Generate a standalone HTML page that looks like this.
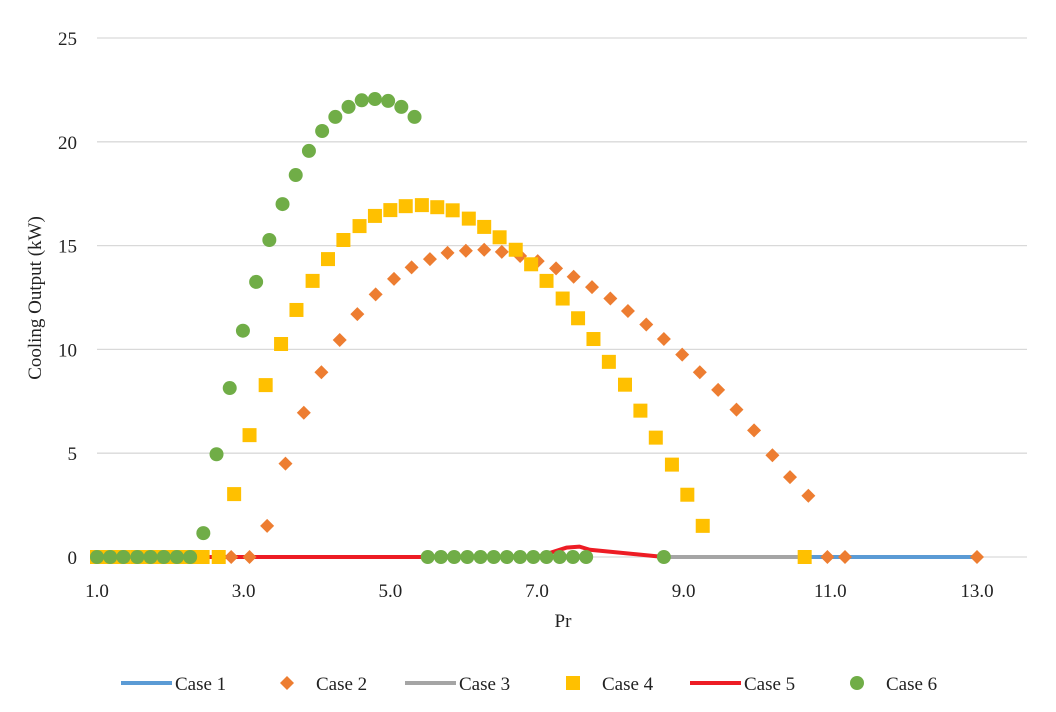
<!DOCTYPE html>
<html><head><meta charset="utf-8"><style>
body{margin:0;background:#fff;}
svg{display:block;font-family:"Liberation Serif",serif;}
</style></head><body>
<svg id="chart" width="1056" height="712" xmlns="http://www.w3.org/2000/svg">
<g id="grid"></g><g id="axes"></g><g id="series"></g><g id="legend"></g>
</svg>
<script>
const xTicks=[1,3,5,7,9,11,13];
const xTickLabels=["1.0","3.0","5.0","7.0","9.0","11.0","13.0"];
const yTicks=[0,5,10,15,20,25];
const case1X=[10.65,13.0];
const case1Y=[0,0];
const case3X=[8.73,10.65];
const case3Y=[0,0];
const case5X=[1.0,7.0,7.4,7.58,7.72,8.73];
const case5Y=[0,0,0.45,0.5,0.35,0];
const case2X=[2.83,3.08,3.32,3.57,3.82,4.06,4.31,4.55,4.8,5.05,5.29,5.54,5.78,6.03,6.28,6.52,6.77,7.01,7.26,7.5,7.75,8.0,8.24,8.49,8.73,8.98,9.22,9.47,9.72,9.96,10.21,10.45,10.7,10.96,11.2,13.0];
const case2Y=[0,0,1.5,4.5,6.95,8.9,10.45,11.7,12.65,13.4,13.95,14.35,14.65,14.75,14.8,14.7,14.5,14.25,13.9,13.5,13.0,12.45,11.85,11.2,10.5,9.75,8.9,8.05,7.1,6.1,4.9,3.85,2.95,0,0,0];
const case4X=[1.0,1.18,1.36,1.55,1.73,1.91,2.09,2.27,2.44,2.66,2.87,3.08,3.3,3.51,3.72,3.94,4.15,4.36,4.58,4.79,5.0,5.21,5.43,5.64,5.85,6.07,6.28,6.49,6.71,6.92,7.13,7.35,7.56,7.77,7.98,8.2,8.41,8.62,8.84,9.05,9.26,10.65];
const case4Y=[0,0,0,0,0,0,0,0,0,0,3.03,5.87,8.28,10.26,11.9,13.3,14.35,15.27,15.94,16.43,16.71,16.9,16.95,16.85,16.7,16.3,15.9,15.4,14.8,14.1,13.3,12.45,11.5,10.5,9.4,8.3,7.05,5.75,4.45,3.0,1.5,0];
const case6X=[1.0,1.18,1.36,1.55,1.73,1.91,2.09,2.27,2.45,2.63,2.81,2.99,3.17,3.35,3.53,3.71,3.89,4.07,4.25,4.43,4.61,4.79,4.97,5.15,5.33,5.51,5.69,5.87,6.05,6.23,6.41,6.59,6.77,6.95,7.13,7.31,7.49,7.67,8.73];
const case6Y=[0,0,0,0,0,0,0,0,1.15,4.95,8.14,10.9,13.25,15.27,17.0,18.4,19.56,20.52,21.2,21.68,22.0,22.06,21.97,21.68,21.2,0,0,0,0,0,0,0,0,0,0,0,0,0,0];

const NS="http://www.w3.org/2000/svg";
const X0=97,X1=1027,Y0=557,Y1=38;
const xs=v=>X0+(v-1)*(880/12);
const ys=v=>Y0-(v/25)*(Y0-Y1);
function mk(tag,attrs,parent,text){const e=document.createElementNS(NS,tag);for(const k in attrs)e.setAttribute(k,attrs[k]);if(text!==undefined)e.textContent=text;parent.appendChild(e);return e;}
const grid=document.getElementById('grid'),axes=document.getElementById('axes'),ser=document.getElementById('series'),leg=document.getElementById('legend');
yTicks.forEach(t=>{
  const l=mk('line',{x1:X0,x2:X1,y1:ys(t),y2:ys(t),stroke:'#d9d9d9','stroke-width':1.3},grid);
  
  
  const tx=mk('text',{x:77,y:ys(t)+7,'text-anchor':'end','font-size':19,fill:'#222'},axes,String(t));
  
  
});
xTicks.forEach((t,i)=>{
  const tx=mk('text',{x:xs(t),y:597,'text-anchor':'middle','font-size':19,fill:'#222'},axes,xTickLabels[i]);
  
  
});
const xt=mk('text',{x:563,y:627,'text-anchor':'middle','font-size':19,fill:'#222'},axes,'Pr');


const yt=mk('text',{x:0,y:0,transform:'translate(41,298) rotate(-90)','text-anchor':'middle','font-size':19,fill:'#222'},axes,'Cooling Output (kW)');



function line(xa,ya,color,name){
  const p=mk('polyline',{points:xa.map((x,i)=>xs(x)+','+ys(ya[i])).join(' '),fill:'none',stroke:color,'stroke-width':4,'stroke-linejoin':'round'},ser);
  
  
}
function marker(type,cx,cy,color,parent){
  let e;
  if(type==='d') e=mk('polygon',{points:`${cx},${cy-7} ${cx+7},${cy} ${cx},${cy+7} ${cx-7},${cy}`,fill:color},parent);
  else if(type==='s') e=mk('rect',{x:cx-7,y:cy-7,width:14,height:14,fill:color},parent);
  else e=mk('circle',{cx:cx,cy:cy,r:7,fill:color},parent);
  return e;
}
line(case3X,case3Y,'#a5a5a5','case3-line');
line(case1X,case1Y,'#5b9bd5','case1-line');
line(case5X,case5Y,'#ed1c24','case5-line');
case2X.forEach((x,i)=>{const m=marker('d',xs(x),ys(case2Y[i]),'#ed7d31',ser);
  
  });
case4X.forEach((x,i)=>{const m=marker('s',xs(x),ys(case4Y[i]),'#ffc000',ser);
  
  });
case6X.forEach((x,i)=>{const m=marker('c',xs(x),ys(case6Y[i]),'#70ad47',ser);
  
  });

const legendItems=[['line','#5b9bd5',121,'Case 1'],['d','#ed7d31',287,'Case 2'],['line','#a5a5a5',405,'Case 3'],['s','#ffc000',573,'Case 4'],['line','#ed1c24',690,'Case 5'],['c','#70ad47',857,'Case 6']];
legendItems.forEach(it=>{
  const g=mk('g',{},leg);
  
  
  let tx;
  if(it[0]==='line'){mk('line',{x1:it[2],x2:it[2]+51,y1:683,y2:683,stroke:it[1],'stroke-width':4},g);tx=it[2]+54;}
  else{marker(it[0],it[2],683,it[1],g);tx=it[2]+29;}
  mk('text',{x:tx,y:690,'font-size':19,fill:'#222'},g,it[3]);
});
</script>
</body></html>
